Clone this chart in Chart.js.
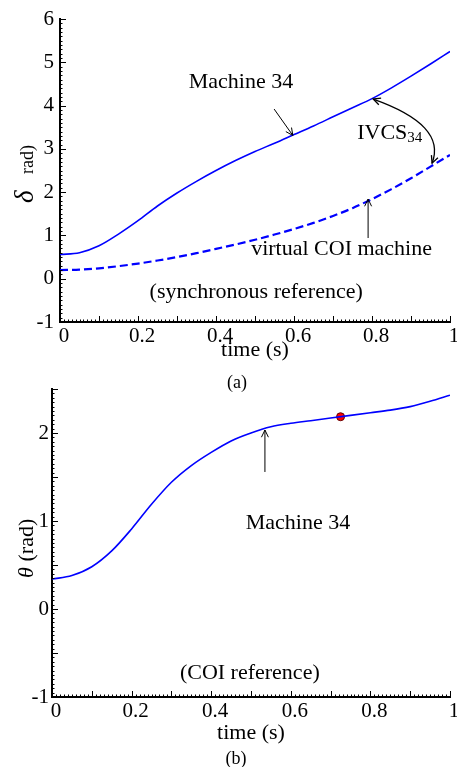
<!DOCTYPE html>
<html>
<head>
<meta charset="utf-8">
<script src="https://cdn.jsdelivr.net/npm/chart.js@4.4.1/dist/chart.umd.min.js"></script>
<style>
  body { margin: 0; background: #fff; width: 457px; height: 767px; position: relative; overflow: hidden; }
  canvas { position: absolute; left: 0; }
  #c1 { top: 0; }
  #c2 { top: 380px; }
  .cap { position: absolute; font-family: 'Liberation Serif', serif; font-size: 18px; color: #000; width: 40px; text-align: center; line-height: 20px; }
</style>
</head>
<body>
<canvas id="c1" width="457" height="390" style="width:457px;height:390px"></canvas>
<canvas id="c2" width="457" height="387" style="width:457px;height:387px"></canvas>
<div class="cap" style="left:217px; top:372px;">(a)</div>
<div class="cap" style="left:216px; top:748px;">(b)</div>
<script>
// time samples (s)
const tTop = [0, 0.05, 0.1, 0.15, 0.2, 0.25, 0.3, 0.35, 0.4, 0.45, 0.5, 0.55, 0.6, 0.65, 0.7, 0.75, 0.8, 0.85, 0.9, 0.95, 1];
// (a) rotor angle of machine 34, synchronous reference
const machineTop = [0.56, 0.60, 0.76, 1.03, 1.34, 1.68, 1.98, 2.25, 2.50, 2.73, 2.94, 3.13, 3.33, 3.53, 3.74, 3.95, 4.16, 4.41, 4.68, 4.96, 5.25];
// (a) virtual COI machine
const coiTop = [0.20, 0.21, 0.24, 0.29, 0.35, 0.42, 0.50, 0.59, 0.69, 0.79, 0.90, 1.02, 1.15, 1.29, 1.45, 1.63, 1.84, 2.07, 2.32, 2.59, 2.86];

const tBottom = [0, 0.05, 0.1, 0.15, 0.2, 0.25, 0.3, 0.35, 0.4, 0.45, 0.5, 0.55, 0.6, 0.65, 0.7, 0.75, 0.8, 0.85, 0.9, 0.95, 1];
// (b) machine 34 in COI reference
const machineBottom = [0.34, 0.38, 0.48, 0.66, 0.91, 1.19, 1.44, 1.63, 1.78, 1.91, 2.00, 2.07, 2.11, 2.14, 2.17, 2.20, 2.23, 2.26, 2.30, 2.36, 2.43];
const dotT = [0.725];
const dotV = [2.185];

// tick labels
const xTicks = [0, 0.2, 0.4, 0.6, 0.8, 1];
const yTicksTop = [-1, 0, 1, 2, 3, 4, 5, 6];
const yTicksBottom = [-1, 0, 1, 2];

const SERIF = "'Liberation Serif', 'Times New Roman', serif";
Chart.defaults.font.family = SERIF;
Chart.defaults.color = '#000';

function pairs(ts, vs) {
  return ts.map((t, i) => ({ x: t, y: vs[i] }));
}

// inward major and minor tick marks along both axes
const axisTicks = {
  id: 'axisTicks',
  afterDraw(chart, args, o) {
    const ctx = chart.ctx, xs = chart.scales.x, ys = chart.scales.y;
    const a = chart.chartArea;
    ctx.save();
    ctx.strokeStyle = '#000';
    function run(scale, step, len, w, horiz) {
      const n = Math.round((scale.max - scale.min) / step);
      ctx.lineWidth = w;
      ctx.beginPath();
      for (let i = 0; i <= n; i++) {
        const p = Math.round(scale.getPixelForValue(scale.min + i * step)) + 0.5;
        if (horiz) { ctx.moveTo(p, a.bottom); ctx.lineTo(p, a.bottom - len); }
        else { ctx.moveTo(a.left, p); ctx.lineTo(a.left + len, p); }
      }
      ctx.stroke();
    }
    run(xs, o.xMinor, 2.5, 1, true);
    run(xs, o.xMajor, 6, 1, true);
    run(ys, o.yMinor, 2.5, 1, false);
    run(ys, o.yMajor, 6, 1, false);
    ctx.restore();
  }
};

function arrowHead(ctx, x, y, ang) {
  const L = 8, s = 0.45;
  ctx.beginPath();
  ctx.moveTo(x - L * Math.cos(ang - s), y - L * Math.sin(ang - s));
  ctx.lineTo(x, y);
  ctx.lineTo(x - L * Math.cos(ang + s), y - L * Math.sin(ang + s));
  ctx.stroke();
}

// labels, arrows and axis titles placed in data coordinates
const notes = {
  id: 'notes',
  afterDraw(chart, args, o) {
    const ctx = chart.ctx, xs = chart.scales.x, ys = chart.scales.y;
    const P = (p) => [xs.getPixelForValue(p[0]), ys.getPixelForValue(p[1])];
    ctx.save();
    ctx.fillStyle = '#000';
    ctx.strokeStyle = '#000';
    ctx.lineWidth = 1;
    o.items.forEach(it => {
      if (it.type === 'text') {
        const [x, y] = P(it.at);
        ctx.font = '22px ' + SERIF;
        ctx.textBaseline = 'middle';
        ctx.textAlign = it.align || 'center';
        ctx.fillText(it.text, x, y);
        if (it.sub) {
          const w = ctx.measureText(it.text).width;
          ctx.font = '15px ' + SERIF;
          ctx.textAlign = 'left';
          ctx.fillText(it.sub, x + w, y + 5);
        }
      } else if (it.type === 'arrow') {
        const [x0, y0] = P(it.from), [x1, y1] = P(it.to);
        ctx.beginPath(); ctx.moveTo(x0, y0); ctx.lineTo(x1, y1); ctx.stroke();
        arrowHead(ctx, x1, y1, Math.atan2(y1 - y0, x1 - x0));
      } else if (it.type === 'curve') {
        const [x0, y0] = P(it.from), [cx, cy] = P(it.ctrl), [x1, y1] = P(it.to);
        ctx.lineWidth = 1.3;
        ctx.beginPath(); ctx.moveTo(x0, y0); ctx.quadraticCurveTo(cx, cy, x1, y1); ctx.stroke();
        arrowHead(ctx, x0, y0, Math.atan2(y0 - cy, x0 - cx));
        arrowHead(ctx, x1, y1, Math.atan2(y1 - cy, x1 - cx));
        ctx.lineWidth = 1;
      }
    });
    // rotated y axis title
    const yt = o.yTitle;
    ctx.translate(yt.x, yt.y);
    ctx.rotate(-Math.PI / 2);
    ctx.textAlign = 'left';
    ctx.textBaseline = 'alphabetic';
    ctx.font = 'italic ' + yt.symSize + 'px ' + SERIF;
    ctx.fillText(yt.sym, 0, 0);
    ctx.font = yt.restSize + 'px ' + SERIF;
    ctx.fillText(yt.rest, yt.gap, 0);
    ctx.restore();
  }
};

function scalesFor(yMin, yMax, yTicks, yWidth, xHeight, yPad) {
  return {
    x: {
      type: 'linear', min: 0, max: 1,
      afterBuildTicks: s => { s.ticks = xTicks.map(v => ({ value: v })); },
      afterFit: s => { s.height = xHeight; s.paddingLeft = 0; s.paddingRight = 0; },
      grid: { drawOnChartArea: false, drawTicks: false },
      border: { display: true, color: '#000', width: 2 },
      ticks: { padding: 2, labelOffset: 4, font: { size: 21 }, color: '#000', maxRotation: 0, autoSkip: false,
               callback: v => String(v) },
      title: { display: true, text: 'time (s)', font: { size: 22 }, color: '#000', padding: 0 }
    },
    y: {
      type: 'linear', min: yMin, max: yMax,
      afterBuildTicks: s => { s.ticks = yTicks.map(v => ({ value: v })); },
      afterFit: s => { s.width = yWidth; s.paddingTop = 0; s.paddingBottom = 0; },
      grid: { drawOnChartArea: false, drawTicks: false },
      border: { display: true, color: '#000', width: 2 },
      ticks: { padding: yPad, font: { size: 21 }, color: '#000', autoSkip: false, callback: v => String(v) }
    }
  };
}

new Chart(document.getElementById('c1'), {
  type: 'line',
  data: {
    datasets: [
      { data: pairs(tTop, machineTop), borderColor: '#0000ff', borderWidth: 1.6, pointRadius: 0, cubicInterpolationMode: 'monotone', fill: false },
      { data: pairs(tTop, coiTop), borderColor: '#0000ff', borderWidth: 2.2, borderDash: [8, 4], pointRadius: 0, cubicInterpolationMode: 'monotone', fill: false }
    ]
  },
  options: {
    responsive: false,
    animation: false,
    layout: { padding: { left: 0, right: 7, top: 19, bottom: 27 } },
    scales: scalesFor(-1, 6, yTicksTop, 60, 41, 6),
    plugins: {
      legend: { display: false },
      tooltip: { enabled: false },
      axisTicks: { xMajor: 0.1, xMinor: 0.01, yMajor: 1, yMinor: 0.1 },
      notes: {
        items: [
          { type: 'text', at: [0.464, 4.54], text: 'Machine 34' },
          { type: 'arrow', from: [0.549, 3.92], to: [0.597, 3.31] },
          { type: 'text', at: [0.762, 3.37], text: 'IVCS', sub: '34', align: 'left' },
          { type: 'curve', from: [0.803, 4.15], ctrl: [0.992, 3.55], to: [0.954, 2.67] },
          { type: 'text', at: [0.722, 0.686], text: 'virtual COI machine' },
          { type: 'arrow', from: [0.79, 0.94], to: [0.79, 1.84] },
          { type: 'text', at: [0.503, -0.307], text: '(synchronous reference)' }
        ],
        yTitle: { x: 33, y: 203, sym: 'δ', symSize: 27, rest: 'rad)', restSize: 18, gap: 29 }
      }
    }
  },
  plugins: [axisTicks, notes]
});

new Chart(document.getElementById('c2'), {
  type: 'line',
  data: {
    datasets: [
      { data: pairs(tBottom, machineBottom), borderColor: '#0000ff', borderWidth: 1.6, pointRadius: 0, cubicInterpolationMode: 'monotone', fill: false },
      { data: pairs(dotT, dotV), showLine: false, pointRadius: 4, pointBackgroundColor: '#ff0000', pointBorderColor: '#600000', pointBorderWidth: 1 }
    ]
  },
  options: {
    responsive: false,
    animation: false,
    layout: { padding: { left: 0, right: 7, top: 9, bottom: 21 } },
    scales: scalesFor(-1, 2.5, yTicksBottom, 52, 49, 3),
    plugins: {
      legend: { display: false },
      tooltip: { enabled: false },
      axisTicks: { xMajor: 0.1, xMinor: 0.01, yMajor: 0.5, yMinor: 0.05 },
      notes: {
        items: [
          { type: 'arrow', from: [0.535, 1.557], to: [0.535, 2.034] },
          { type: 'text', at: [0.618, 0.977], text: 'Machine 34' },
          { type: 'text', at: [0.497, -0.727], text: '(COI reference)' }
        ],
        yTitle: { x: 33, y: 198, sym: 'θ', symSize: 22, rest: ' (rad)', restSize: 22, gap: 11 }
      }
    }
  },
  plugins: [axisTicks, notes]
});
</script>
</body>
</html>
